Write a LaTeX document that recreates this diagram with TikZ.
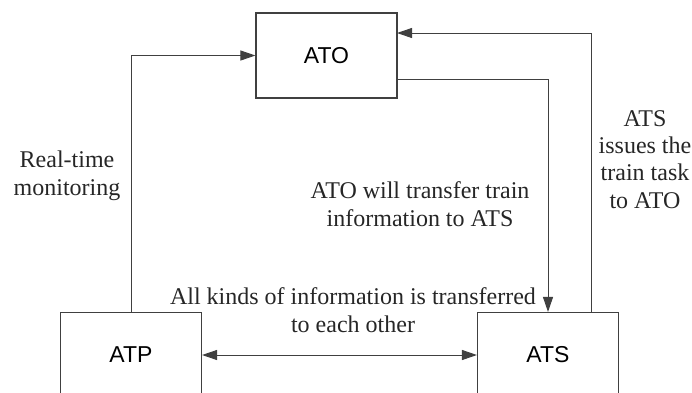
\documentclass[tikz,border=0pt]{standalone}
\usepackage{fontspec}
\setmainfont{Liberation Serif}
\newfontfamily\boxfont{Liberation Sans}
\usetikzlibrary{arrows.meta}
\definecolor{linegray}{HTML}{404040}
\tikzset{
  blockbox/.style={draw=linegray, line width=1.1pt, minimum width=141pt, minimum height=85pt, inner sep=0pt, font=\boxfont\fontsize{23pt}{27pt}\selectfont},
  conn/.style={draw=linegray, line width=1pt, -{Triangle[length=15pt,width=10pt]}},
  lbl/.style={align=center, inner sep=0pt, anchor=base, text=black!85, font=\fontsize{24pt}{27.2pt}\selectfont}
}
\begin{document}
\begin{tikzpicture}[x=1pt,y=-1pt]
\useasboundingbox (0,0) rectangle (692,392);
\clip (0,0) rectangle (692,392);
\node[blockbox] (ato) at (326.5,55.5) {ATO};
\node[blockbox] (atp) at (131,355) {ATP};
\node[blockbox] (ats) at (548,355) {ATS};
\coordinate (atoout) at (397,79);
\coordinate (atoin) at (397,33);
\coordinate (atsup) at (591,312);
\draw[conn] (atp.north) |- (ato.west);
\draw[conn] (atoout) -| (ats.north);
\draw[conn] (atsup) |- (atoin);
\draw[conn, {Triangle[length=15pt,width=10pt]}-{Triangle[length=15pt,width=10pt]}] (atp.east) -- (ats.west);
\node[lbl] (l1) at (67,195) {Real-time\\monitoring};
\node[lbl] (l2) at (420,226) {ATO will transfer train\\information to ATS};
\node[lbl] (l3) at (645,208) {ATS\\issues the\\train task\\to ATO};
\node[lbl] (l4) at (353,332) {All kinds of information is transferred\\to each other};
\end{tikzpicture}
\end{document}
